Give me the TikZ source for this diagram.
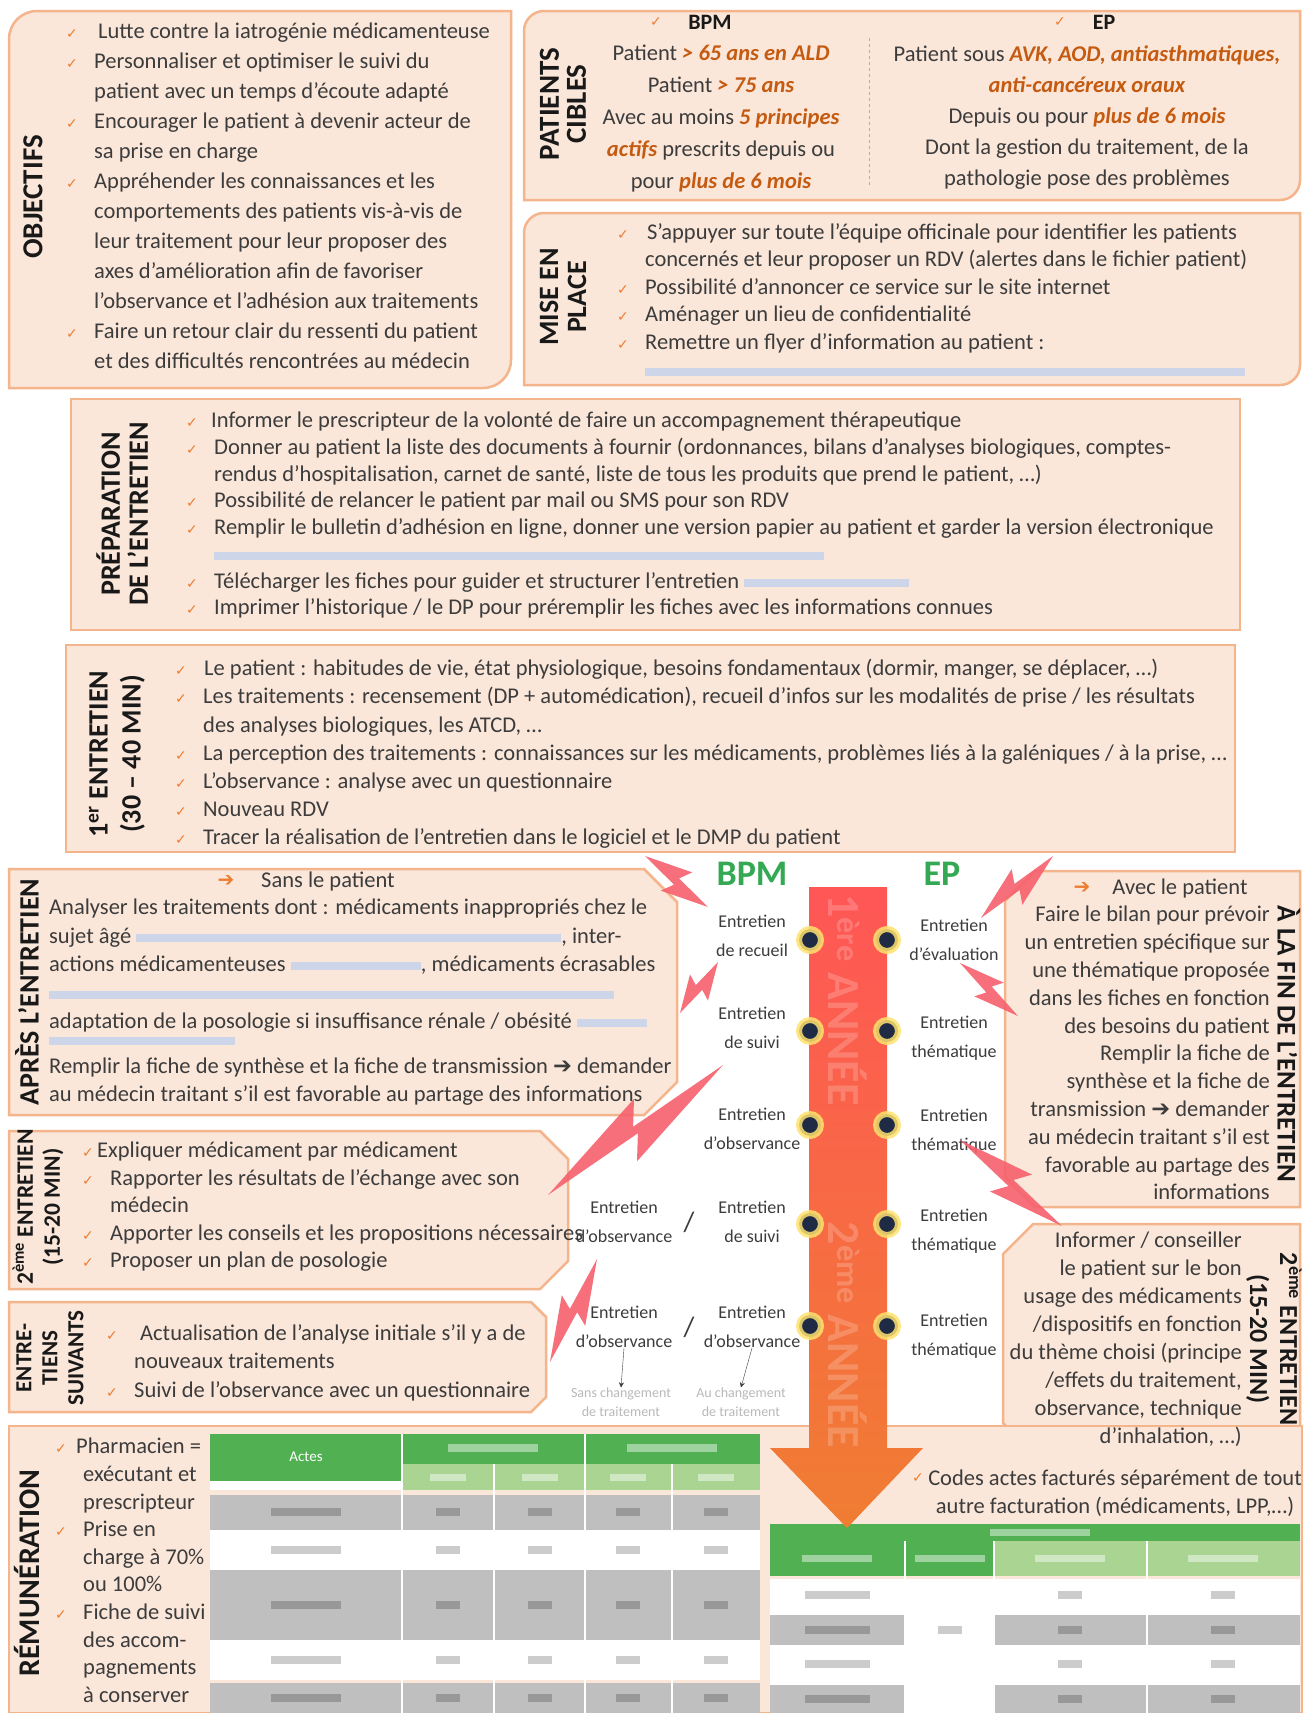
\documentclass[tikz,border=0pt]{standalone}
\usepackage{fontspec}
\setmainfont{Carlito}
\newfontfamily\symfont{DejaVu Sans}
\usetikzlibrary{calc, positioning, arrows.meta}

\definecolor{boxfill}{RGB}{251,231,218}
\definecolor{boxline}{RGB}{244,180,140}
\definecolor{bodygray}{RGB}{60,60,60}
\definecolor{titleink}{RGB}{25,25,25}
\definecolor{hlorange}{RGB}{197,90,17}
\definecolor{chkorange}{RGB}{237,125,49}
\definecolor{bpmgreen}{RGB}{52,168,83}
\definecolor{darkgreen}{RGB}{80,176,82}
\definecolor{lightgreen}{RGB}{169,212,145}
\definecolor{rowgray}{RGB}{191,191,191}
\definecolor{urlblue}{RGB}{205,214,232}
\definecolor{boltred}{RGB}{246,96,108}
\definecolor{dotnavy}{RGB}{31,42,68}
\definecolor{glowyellow}{RGB}{255,226,110}
\definecolor{arrowtop}{RGB}{255,86,86}
\definecolor{arrowmid}{RGB}{244,165,145}
\definecolor{arrowbottom}{RGB}{240,125,50}

\newlength\chkw
\setlength\chkw{28pt}
\newcommand\chk{\makebox[\chkw][l]{\textcolor{chkorange}{\symfont\fontsize{14}{14}\selectfont ✓}}}
\newcommand\contind{\hspace*{\chkw}}
\newcommand\hlt[1]{\textcolor{hlorange}{\bfseries\itshape #1}}
\newcommand\urlbar[1]{\textcolor{urlblue}{\rule[1pt]{#1}{8pt}}}
\newcommand\rarr{{\symfont ➔}}

\tikzset{
    panel/.style={fill=boxfill, draw=boxline, line width=2.5pt},
    paneltitle/.style={font=\bfseries\fontsize{#1}{28}\selectfont, text=titleink, align=center, inner sep=0pt},
    paneltitle/.default=28,
    listtext/.style={font=\fontsize{22.5}{#1}\selectfont, text=bodygray, align=left, inner sep=0pt, anchor=north west},
    listtext/.default=28,
    rlisttext/.style={listtext=#1, align=right, anchor=north east},
    rlisttext/.default=28,
    clisttext/.style={listtext=#1, align=center, anchor=north},
    clisttext/.default=28,
    timelabel/.style={font=\fontsize{18}{29}\selectfont, text=bodygray, align=center, inner sep=0pt},
    faintlabel/.style={font=\fontsize{14}{19}\selectfont, text=gray!55, align=center, inner sep=0pt},
    progname/.style={font=\bfseries\fontsize{36}{36}\selectfont, text=bpmgreen},
    yeartext/.style={font=\bfseries\fontsize{46}{46}\selectfont, text=white, text opacity=0.2},
    tldot/.style={circle, fill=dotnavy, draw=glowyellow, draw opacity=0.85, line width=6pt, minimum size=22pt, inner sep=0pt},
    chkmark/.style={text=chkorange, font=\symfont\fontsize{14}{14}\selectfont, inner sep=0pt},
    boltfill/.style={fill=boltred, fill opacity=0.9},
    boltpath/.style={to path={
        -- ($(\tikztostart)!0.58!(\tikztotarget)!#1!90:(\tikztotarget)$)
        -- ($(\tikztostart)!0.5!(\tikztotarget)!4pt!90:(\tikztotarget)$)
        -- (\tikztotarget)
        -- ($(\tikztostart)!0.42!(\tikztotarget)!#1!-90:(\tikztotarget)$)
        -- ($(\tikztostart)!0.5!(\tikztotarget)!4pt!-90:(\tikztotarget)$)
        -- cycle}},
    boltpath/.default=17pt,
    downarr/.style={-{Stealth[length=5pt,width=5pt]}, thin, draw=bodygray},
    cellsmudge/.style={fill=black, fill opacity=0.2},
    headsmudge/.style={fill=white, fill opacity=0.45}
}

\begin{document}
\begin{tikzpicture}[x=1pt, y=-1pt]
    \useasboundingbox (0,0) rectangle (1308,1713);
    \fill[white] (0,0) rectangle (1308,1713);

    % Panels
    \draw[panel] (9,388) -- (9,39) arc[start angle=180, end angle=270, radius=28] -- (511,11) -- (511,360) arc[start angle=0, end angle=90, radius=28] -- cycle;
    \draw[panel] (524,200) -- (524,31) arc[start angle=180, end angle=270, radius=20] -- (1300,11) -- (1300,180) arc[start angle=0, end angle=90, radius=20] -- cycle;
    \draw[panel] (524,385) -- (524,233) arc[start angle=180, end angle=270, radius=20] -- (1300,213) -- (1300,365) arc[start angle=0, end angle=90, radius=20] -- cycle;
    \draw[panel] (71,399) rectangle (1240,630);
    \draw[panel] (66,645) rectangle (1235,852);
    \draw[panel] (9,869) -- (644,869) -- (677,902) -- (677,1082) -- (644,1115) -- (9,1115) -- cycle;
    \draw[panel] (1035,871) -- (1300,871) -- (1300,1207) -- (1035,1207) -- (1005,1177) -- (1005,901) -- cycle;
    \draw[panel] (9,1131) -- (540,1131) -- (568,1159) -- (568,1261) -- (540,1289) -- (9,1289) -- cycle;
    \draw[panel] (1033,1224) -- (1300,1224) -- (1300,1453) -- (1033,1453) -- (1003,1423) -- (1003,1254) -- cycle;
    \draw[panel] (9,1302) -- (531,1302) -- (546,1317) -- (546,1397) -- (531,1412) -- (9,1412) -- cycle;
    \draw[panel] (9,1426) rectangle (1302,1713);
    \draw[dashed, draw=boxline!70!gray, thick] (869,38) -- (869,186);

    % Objectifs
    \node[paneltitle=29, rotate=90] (objtitle) at (33,197) {OBJECTIFS};
    \node[listtext=30] (objtxt) at (66,23) {\setlength\chkw{32pt}%
        \chk Lutte contre la iatrogénie médicamenteuse\\
        \chk Personnaliser et optimiser le suivi du\\
        \contind patient avec un temps d'écoute adapté\\
        \chk Encourager le patient à devenir acteur de\\
        \contind sa prise en charge\\
        \chk Appréhender les connaissances et les\\
        \contind comportements des patients vis-à-vis de\\
        \contind leur traitement pour leur proposer des\\
        \contind axes d'amélioration afin de favoriser\\
        \contind l'observance et l'adhésion aux traitements\\
        \chk Faire un retour clair du ressenti du patient\\
        \contind et des difficultés rencontrées au médecin};

    % Patients cibles
    \node[paneltitle=29, rotate=90, font=\bfseries\fontsize{29}{27}\selectfont] (pctitle) at (563,104) {PATIENTS\\CIBLES};
    \node[chkmark] (pcbpmchk) at (656,22) {✓};
    \node[font=\bfseries\fontsize{22}{22}\selectfont, text=titleink] (pcbpm) at (710,22) {BPM};
    \node[chkmark] (pcepchk) at (1060,22) {✓};
    \node[font=\bfseries\fontsize{22}{22}\selectfont, text=titleink] (pcep) at (1104,22) {EP};
    \node[clisttext=32] (pcbpmtxt) at (721,45) {Patient \hlt{> 65 ans en ALD}\\
        Patient \hlt{> 75 ans}\\
        Avec au moins \hlt{5 principes}\\
        \hlt{actifs} prescrits depuis ou\\
        pour \hlt{plus de 6 mois}};
    \node[clisttext=31] (pceptxt) at (1087,45) {Patient sous \hlt{AVK, AOD, antiasthmatiques,}\\
        \hlt{anti-cancéreux oraux}\\
        Depuis ou pour \hlt{plus de 6 mois}\\
        Dont la gestion du traitement, de la\\
        pathologie pose des problèmes};

    % Mise en place
    \node[paneltitle, rotate=90] (mptitle) at (563,297) {MISE EN\\PLACE};
    \node[listtext=27.5] (mptxt) at (617,223) {\setlength\chkw{30pt}%
        \chk S'appuyer sur toute l'équipe officinale pour identifier les patients\\
        \contind concernés et leur proposer un RDV (alertes dans le fichier patient)\\
        \chk Possibilité d'annoncer ce service sur le site internet\\
        \chk Aménager un lieu de confidentialité\\
        \chk Remettre un flyer d'information au patient :\\
        \contind\urlbar{600pt}};

    % Preparation
    \node[paneltitle, rotate=90] (preptitle) at (122,514) {PRÉPARATION\\DE L'ENTRETIEN};
    \node[listtext=26.7] (preptxt) at (186,412) {\setlength\chkw{25pt}%
        \chk Informer le prescripteur de la volonté de faire un accompagnement thérapeutique\\
        \chk Donner au patient la liste des documents à fournir (ordonnances, bilans d'analyses biologiques, comptes-\\
        \contind rendus d'hospitalisation, carnet de santé, liste de tous les produits que prend le patient, …)\\
        \chk Possibilité de relancer le patient par mail ou SMS pour son RDV\\
        \chk Remplir le bulletin d'adhésion en ligne, donner une version papier au patient et garder la version électronique\\
        \contind\urlbar{610pt}\\
        \chk Télécharger les fiches pour guider et structurer l'entretien \urlbar{165pt}\\
        \chk Imprimer l'historique / le DP pour préremplir les fiches avec les informations connues};

    % 1er entretien
    \node[paneltitle, rotate=90, font=\bfseries\fontsize{28}{33}\selectfont] (e1title) at (117,754) {1\textsuperscript{er} ENTRETIEN\\(30 – 40 MIN)};
    \node[listtext=28.2] (e1txt) at (175,659) {\setlength\chkw{29pt}%
        \chk Le patient : habitudes de vie, état physiologique, besoins fondamentaux (dormir, manger, se déplacer, …)\\
        \chk Les traitements : recensement (DP + automédication), recueil d'infos sur les modalités de prise / les résultats\\
        \contind des analyses biologiques, les ATCD, …\\
        \chk La perception des traitements : connaissances sur les médicaments, problèmes liés à la galéniques / à la prise, …\\
        \chk L'observance : analyse avec un questionnaire\\
        \chk Nouveau RDV\\
        \chk Tracer la réalisation de l'entretien dans le logiciel et le DMP du patient};

    % Apres l'entretien
    \node[paneltitle, rotate=90] (aptitle) at (27,992) {APRÈS L'ENTRETIEN};
    \node[text=chkorange, font=\fontsize{20}{20}\selectfont] (sansarr) at (226,881) {\rarr};
    \node[font=\fontsize{22.5}{24}\selectfont, text=bodygray] (sanshd) at (328,881) {Sans le patient};
    \node[listtext=28.3] (aptxt) at (49,899) {Analyser les traitements dont : médicaments inappropriés chez le\\
        sujet âgé \urlbar{425pt}, inter-\\
        actions médicamenteuses \urlbar{130pt}, médicaments écrasables\\
        \urlbar{565pt}\\
        adaptation de la posologie si insuffisance rénale / obésité \urlbar{70pt}};
    \fill[urlblue] (49,1037) rectangle (235,1045);
    \node[listtext=28] (aptxtb) at (49,1058) {Remplir la fiche de synthèse et la fiche de transmission \rarr{} demander\\
        au médecin traitant s'il est favorable au partage des informations};

    % A la fin de l'entretien
    \node[paneltitle=27, rotate=-90] (fintitle) at (1289,1044) {À LA FIN DE L'ENTRETIEN};
    \node[text=chkorange, font=\fontsize{20}{20}\selectfont] (avecarr) at (1082,888) {\rarr};
    \node[font=\fontsize{22.5}{24}\selectfont, text=bodygray] (avechd) at (1180,888) {Avec le patient};
    \node[rlisttext=27.8] (fintxt) at (1270,906) {Faire le bilan pour prévoir\\
        un entretien spécifique sur\\
        une thématique proposée\\
        dans les fiches en fonction\\
        des besoins du patient\\
        Remplir la fiche de\\
        synthèse et la fiche de\\
        transmission \rarr{} demander\\
        au médecin traitant s'il est\\
        favorable au partage des\\
        informations};

    % 2eme entretien (droite)
    \node[paneltitle, rotate=-90, font=\bfseries\fontsize{26}{30}\selectfont] (e2rtitle) at (1274,1339) {2\textsuperscript{ème} ENTRETIEN\\(15-20 MIN)};
    \node[rlisttext=27.9] (e2rtxt) at (1242,1232) {Informer / conseiller\\
        le patient sur le bon\\
        usage des médicaments\\
        /dispositifs en fonction\\
        du thème choisi (principe\\
        /effets du traitement,\\
        observance, technique\\
        d'inhalation, …)};

    % 2eme entretien (gauche)
    \node[paneltitle, rotate=90, font=\bfseries\fontsize{23.5}{27}\selectfont] (e2ltitle) at (38,1207) {2\textsuperscript{ème} ENTRETIEN\\(15-20 MIN)};
    \node[listtext=27.5] (e2ltxt) at (82,1142) {\setlength\chkw{15pt}%
        \chk Expliquer médicament par médicament\\
        \chk Rapporter les résultats de l'échange avec son\\
        \contind médecin\\
        \chk Apporter les conseils et les propositions nécessaires\\
        \chk Proposer un plan de posologie};

    % Entretiens suivants
    \node[paneltitle, rotate=90, font=\bfseries\fontsize{23}{26}\selectfont] (suivtitle) at (50,1358) {ENTRE-\\TIENS\\SUIVANTS};
    \node[listtext=28.5] (suivtxt) at (106,1324) {\setlength\chkw{34pt}%
        \chk Actualisation de l'analyse initiale s'il y a de\\
        \contind nouveaux traitements\\
        \chk Suivi de l'observance avec un questionnaire};

    % Remuneration
    \node[paneltitle=30, rotate=90] (remtitle) at (27,1573) {RÉMUNÉRATION};
    \node[listtext=27.6] (remtxt) at (55,1438) {\setlength\chkw{21pt}%
        \chk Pharmacien =\\
        \contind exécutant et\\
        \contind prescripteur\\
        \chk Prise en\\
        \contind charge à 70\%\\
        \contind ou 100\%\\
        \chk Fiche de suivi\\
        \contind des accom-\\
        \contind pagnements\\
        \contind à conserver};

    % Tableau gauche
    \fill[darkgreen] (210,1434) rectangle (760,1464);
    \fill[lightgreen] (402,1464) rectangle (760,1490);
    \fill[darkgreen] (210,1464) rectangle (402,1481);
    \fill[white] (210,1481) rectangle (402,1490);
    \fill[rowgray] (210,1495) rectangle (760,1530);
    \fill[white] (210,1530) rectangle (760,1570);
    \fill[rowgray] (210,1570) rectangle (760,1640);
    \fill[white] (210,1640) rectangle (760,1680);
    \fill[rowgray] (210,1683) rectangle (760,1713);
    \foreach \x in {402,585} \draw[white, line width=1.5pt] (\x,1434) -- (\x,1464);
    \foreach \x in {402,494,585,672} \draw[white, line width=1.5pt] (\x,1464) -- (\x,1713);
    \node[text=white, font=\fontsize{15}{15}\selectfont] (acteshd) at (306,1457) {Actes};
    \foreach \x in {493,672} \fill[headsmudge] (\x-45,1444) rectangle (\x+45,1452);
    \foreach \x in {448,540,628,716} \fill[headsmudge] (\x-18,1474) rectangle (\x+18,1481);
    \foreach \y in {1512,1550,1605,1660,1698} {
        \fill[cellsmudge] (271,\y-4) rectangle (341,\y+4);
        \foreach \x in {448,540,628,716} \fill[cellsmudge] (\x-12,\y-4) rectangle (\x+12,\y+4);
    }

    % Tableau droit
    \fill[darkgreen] (770,1524) rectangle (1300,1541);
    \fill[darkgreen] (770,1541) rectangle (994,1576);
    \fill[lightgreen] (994,1541) rectangle (1300,1576);
    \fill[white] (770,1579) rectangle (1300,1713);
    \fill[rowgray] (770,1615) rectangle (905,1645);
    \fill[rowgray] (994,1615) rectangle (1300,1645);
    \fill[rowgray] (770,1685) rectangle (905,1713);
    \fill[rowgray] (994,1685) rectangle (1300,1713);
    \foreach \x in {905,994,1147} \draw[white, line width=1.5pt] (\x,1541) -- (\x,1713);
    \fill[headsmudge] (990,1529) rectangle (1090,1536);
    \foreach \x in {837,950,1070,1223} \fill[headsmudge] (\x-35,1555) rectangle (\x+35,1562);
    \foreach \y in {1595,1630,1664,1699} {
        \fill[cellsmudge] (805,\y-4) rectangle (870,\y+4);
        \foreach \x in {1070,1223} \fill[cellsmudge] (\x-12,\y-4) rectangle (\x+12,\y+4);
    }
    \fill[cellsmudge] (938,1626) rectangle (962,1634);

    \node[chkmark] (codechk) at (918,1478) {✓};
    \node[clisttext=28] (codetxt) at (1115,1470) {Codes actes facturés séparément de tout\\autre facturation (médicaments, LPP,…)};

    % Fleche du temps
    \shade[top color=arrowtop, middle color=arrowmid, bottom color=arrowbottom]
        (809,887) -- (887,887) -- (887,1448) -- (923,1448) -- (847,1528) -- (770,1448) -- (809,1448) -- cycle;
    \node[yeartext, rotate=-90] (an1) at (848,1000) {1\textsuperscript{ère} ANNÉE};
    \node[yeartext, rotate=-90] (an2) at (848,1335) {2\textsuperscript{ème} ANNÉE};
    \foreach \y [count=\i] in {940,1031,1125,1224,1326} {
        \node[tldot] (dl\i) at (810,\y) {};
        \node[tldot] (dr\i) at (887,\y) {};
    }

    % Entretiens BPM / EP
    \node[progname] (bpmlbl) at (752,874) {BPM};
    \node[progname] (eplbl) at (942,874) {EP};
    \node[timelabel] (rec) at (752,936) {Entretien\\de recueil};
    \node[timelabel] (sui2) at (752,1028) {Entretien\\de suivi};
    \node[timelabel] (obs3) at (752,1129) {Entretien\\d'observance};
    \node[timelabel] (obs4) at (624,1222) {Entretien\\d'observance};
    \node[font=\fontsize{28}{28}\selectfont, text=bodygray] (sl4) at (689,1222) {/};
    \node[timelabel] (sui4) at (752,1222) {Entretien\\de suivi};
    \node[timelabel] (obs5a) at (624,1327) {Entretien\\d'observance};
    \node[font=\fontsize{28}{28}\selectfont, text=bodygray] (sl5) at (689,1327) {/};
    \node[timelabel] (obs5b) at (752,1327) {Entretien\\d'observance};
    \node[faintlabel] (chg5a) at (621,1402) {Sans changement\\de traitement};
    \node[faintlabel] (chg5b) at (741,1402) {Au changement\\de traitement};
    \draw[downarr] (obs5a.south) -- (chg5a.north);
    \draw[downarr] (obs5b.south) -- (chg5b.north);
    \node[timelabel] (eval) at (954,940) {Entretien\\d'évaluation};
    \node[timelabel] (them2) at (954,1038) {Entretien\\thématique};
    \node[timelabel] (them3) at (954,1131) {Entretien\\thématique};
    \node[timelabel] (them4) at (954,1231) {Entretien\\thématique};
    \node[timelabel] (them5) at (954,1336) {Entretien\\thématique};

    % Eclairs
    \coordinate (b1s) at (645,856);  \coordinate (b1e) at (708,907);
    \coordinate (b2s) at (680,1013); \coordinate (b2e) at (718,962);
    \coordinate (b3s) at (548,1195); \coordinate (b3e) at (723,1065);
    \coordinate (b4s) at (550,1362); \coordinate (b4e) at (597,1259);
    \coordinate (b5s) at (1053,856); \coordinate (b5e) at (981,918);
    \coordinate (b6s) at (960,963);  \coordinate (b6e) at (1018,1016);
    \coordinate (b7s) at (960,1140); \coordinate (b7e) at (1062,1226);
    \fill[boltfill, boltpath] (b1s) to (b1e);
    \fill[boltfill, boltpath=15pt] (b2s) to (b2e);
    \fill[boltfill, boltpath=26pt] (b3s) to (b3e);
    \fill[boltfill, boltpath] (b4s) to (b4e);
    \fill[boltfill, boltpath] (b5s) to (b5e);
    \fill[boltfill, boltpath=15pt] (b6s) to (b6e);
    \fill[boltfill, boltpath=20pt] (b7s) to (b7e);
\end{tikzpicture}
\end{document}
